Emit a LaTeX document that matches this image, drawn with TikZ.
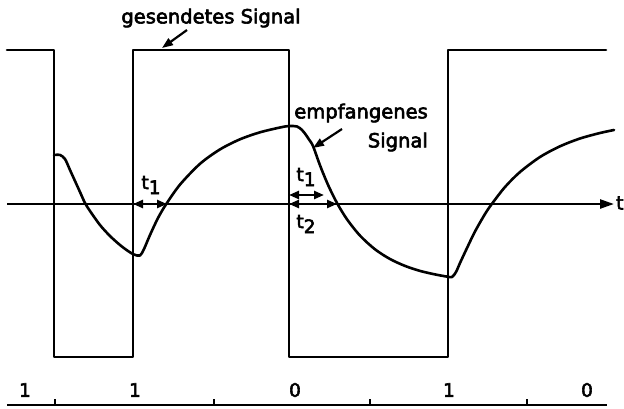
\documentclass[tikz,border=0pt]{standalone}
\usepackage{fontspec}
\setmainfont{DejaVu Sans}
\newfontfamily\labfont{DejaVu Sans}[FakeBold=3]
\usetikzlibrary{arrows.meta}
\tikzset{
  wire/.style={line width=2.6pt, line join=round, line cap=round},
  axisarrow/.style={line width=2.4pt, -{Triangle[length=14pt,width=9pt]}},
  darrow/.style={line width=2.4pt, {Triangle[length=10pt,width=8pt]}-{Triangle[length=10pt,width=8pt]}},
  pointer/.style={line width=2.2pt, -{Triangle[length=11pt,width=8pt]}},
  lbl/.style={inner sep=0pt, font=\labfont\fontsize{19.5}{22}\selectfont},
  tlbl/.style={inner sep=0pt, font=\labfont\fontsize{18.5}{20}\selectfont},
}
\begin{document}
\begin{tikzpicture}[x=1pt,y=-1pt]
\useasboundingbox (0,0) rectangle (624,408);
% sent square wave
\draw[wire] (7,50) -- (54,50) -- (54,357) -- (133,357) -- (133,50) -- (289,50) -- (289,357) -- (448,357) -- (448,50) -- (606,50);
% time axis
\coordinate (axL) at (7,204);
\coordinate (axR) at (614,204);
\draw[axisarrow] (axL) -- (axR);
\node[tlbl, anchor=west] (tlab) at (616,203) {t};
% received signal
\draw[wire] plot[smooth, tension=0.5] coordinates {
 (54,155) (60,155) (65,159) (70,170) (75,181) (80,192) (85,203) (90,211) (100,225)
 (110,236) (120,245) (128,251) (134,254.5) (140,255.5) (144,249) (150,235) (158,218)
 (166,204.4) (180,184.6) (200,163.8) (220,149.4) (240,139.3) (260,132.3) (280,127.5)
 (289,126) (297,126.5) (302,130) (306,135) (309,139.5) (313,146) (320,165.3) (328,184.8)
 (337,203) (347,219.3) (360,235.6) (375,249.3) (390,259) (405,265.9) (420,270.9)
 (435,274.4) (447,276.6) (452,277)
 (456,272) (460,263) (467,248) (475,231.5) (485,214) (492,203.7) (505,187) (520,172)
 (540,157) (560,146.3) (580,138.5) (600,133) (614,130)};
% t1 / t2 markers
\coordinate (a1L) at (133,204);
\coordinate (a1R) at (167,204);
\draw[darrow] (a1L) -- (a1R);
\node[tlbl] (t1a) at (151,185) {t\raisebox{-5pt}{1}};
\coordinate (b1L) at (289,195);
\coordinate (b1R) at (324,195);
\draw[darrow] (b1L) -- (b1R);
\node[tlbl] (t1b) at (306,177) {t\raisebox{-5pt}{1}};
\coordinate (b2L) at (289,204);
\coordinate (b2R) at (337,204);
\draw[darrow] (b2L) -- (b2R);
\node[tlbl] (t2b) at (306,224) {t\raisebox{-5pt}{2}};
% labels
\node[lbl] (sent) at (211,18) {gesendetes Signal};
\coordinate (sentTail) at (187,30);
\coordinate (sentTip) at (162,48);
\draw[pointer] (sentTail) -- (sentTip);
\node[lbl, anchor=east] (recv1) at (428,113) {empfangenes};
\node[lbl, anchor=east] (recv2) at (428,142) {Signal};
\coordinate (recvTail) at (342,129);
\coordinate (recvTip) at (313,148);
\draw[pointer] (recvTail) -- (recvTip);
% bit line
\coordinate (bL) at (7,405);
\coordinate (bR) at (607,405);
\draw[line width=2.4pt] (bL) -- (bR);
\foreach \x in {55,214,370,527} { \draw[line width=1.8pt] (\x,405) -- (\x,399); }
\node[tlbl] (d1) at (25,390) {1};
\node[tlbl] (d2) at (135,390) {1};
\node[tlbl] (d3) at (295,390) {0};
\node[tlbl] (d4) at (449,390) {1};
\node[tlbl] (d5) at (587,390) {0};
\end{tikzpicture}
\end{document}
